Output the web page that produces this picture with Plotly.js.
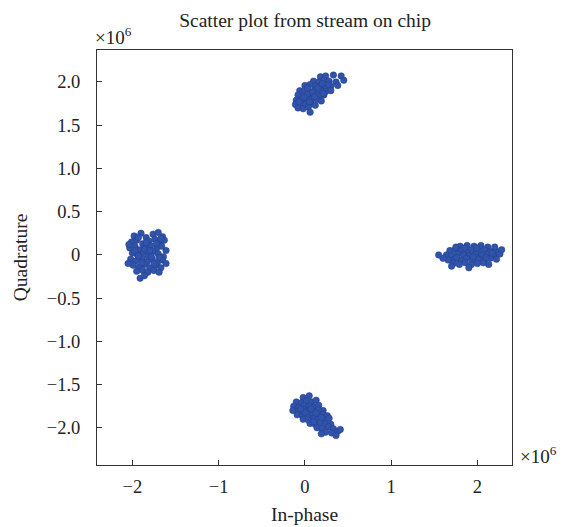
<!DOCTYPE html>
<html>
<head>
<meta charset="utf-8">
<script src="https://cdn.plot.ly/plotly-3.0.1.min.js"></script>
<style>html,body{margin:0;padding:0;background:#fff;}#chart{width:565px;height:527px;}</style>
</head>
<body>
<div id="chart"></div>
<script>
// Values in units of 1e6
const leftX = [-1.98,-1.90,-1.84,-1.76,-1.70,-1.65,
 -2.01,-1.95,-1.88,-1.81,-1.74,-1.68,-1.63,
 -2.03,-1.97,-1.91,-1.85,-1.79,-1.72,-1.66,-1.61,
 -2.00,-1.94,-1.87,-1.82,-1.76,-1.70,-1.64,
 -2.02,-1.96,-1.89,-1.83,-1.77,-1.71,-1.65,-1.61,
 -1.99,-1.92,-1.86,-1.80,-1.73,-1.67,
 -1.95,-1.88,-1.82,-1.75,-1.69,
 -1.91,-1.86,
 -1.93,-1.86,-1.78,-1.72,-1.89,-1.80,-1.69,-1.97,-1.84,-1.75,-1.93,-1.67,-2.04,-2.05];
const leftY = [0.22,0.25,0.20,0.24,0.26,0.21,
 0.15,0.17,0.13,0.16,0.18,0.14,0.17,
 0.08,0.10,0.06,0.09,0.11,0.07,0.10,0.05,
 0.02,0.00,0.03,-0.01,0.04,0.01,-0.02,
 -0.05,-0.07,-0.04,-0.08,-0.05,-0.09,-0.06,-0.10,
 -0.12,-0.14,-0.11,-0.15,-0.12,-0.15,
 -0.19,-0.18,-0.20,-0.18,-0.20,
 -0.27,-0.24,
 0.20,0.07,-0.02,0.13,-0.09,0.05,-0.03,0.05,0.14,-0.10,-0.01,0.19,0.12,-0.10];

const topX = [0.18,0.24,0.33,0.42,
 0.10,0.16,0.22,0.28,0.36,0.45,
 0.00,0.06,0.12,0.18,0.24,0.30,0.38,
 -0.06,0.00,0.06,0.12,0.18,0.24,0.30,
 -0.08,-0.02,0.04,0.10,0.16,0.22,
 -0.10,-0.04,0.02,0.08,0.14,0.19,
 -0.11,-0.05,0.01,0.07,0.12,
 -0.08,-0.02,0.04,
 0.06,
 0.03,0.09,0.15,-0.01,0.05,0.11,0.20,0.27,0.21,-0.07];
const topY = [2.06,2.07,2.08,2.07,
 2.01,2.00,2.02,2.01,2.00,2.02,
 1.96,1.97,1.95,1.96,1.94,1.95,1.96,
 1.90,1.91,1.89,1.91,1.90,1.89,1.90,
 1.85,1.84,1.86,1.85,1.84,1.85,
 1.79,1.80,1.79,1.81,1.80,1.78,
 1.74,1.75,1.74,1.75,1.73,
 1.70,1.69,1.71,
 1.65,
 1.93,1.88,1.93,1.82,1.77,1.83,1.98,1.97,1.87,1.77];

const rightX = [1.80,1.88,1.96,2.04,2.12,
 1.68,1.74,1.81,1.88,1.94,2.01,2.08,2.15,2.21,
 1.64,1.70,1.77,1.84,1.91,1.98,2.05,2.12,2.19,2.26,
 1.66,1.73,1.80,1.87,1.94,2.01,2.08,2.15,2.22,
 1.72,1.79,1.86,1.93,2.00,2.07,2.13,
 1.55,1.60,1.70,1.90,2.28,2.20,1.75,
 1.85,1.99,2.10,1.95,1.76,2.17];
const rightY = [0.10,0.11,0.10,0.11,0.09,
 0.05,0.06,0.05,0.04,0.06,0.05,0.06,0.04,0.05,
 0.00,-0.01,0.01,0.00,-0.01,0.01,0.00,0.01,-0.01,0.01,
 -0.06,-0.05,-0.06,-0.04,-0.06,-0.05,-0.06,-0.04,-0.05,
 -0.10,-0.11,-0.09,-0.11,-0.10,-0.09,-0.11,
 0.00,-0.04,-0.13,-0.15,0.06,0.09,0.09,
 0.08,0.08,-0.03,-0.02,-0.03,0.02];

const bottomX = [-0.02,0.05,
 -0.10,-0.04,0.02,0.08,0.13,
 -0.13,-0.07,-0.01,0.05,0.11,0.16,
 -0.14,-0.08,-0.02,0.04,0.10,0.16,0.21,
 -0.09,-0.03,0.03,0.09,0.15,0.21,0.26,
 -0.02,0.04,0.10,0.16,0.22,0.28,
 0.06,0.12,0.18,0.24,0.30,
 0.14,0.20,0.27,0.33,
 0.24,0.31,0.38,
 0.36,0.41,0.19,
 0.00,0.07,0.13,0.19,-0.05,0.10];
const bottomY = [-1.65,-1.63,
 -1.70,-1.71,-1.69,-1.70,-1.68,
 -1.75,-1.76,-1.74,-1.75,-1.76,-1.74,
 -1.80,-1.81,-1.79,-1.80,-1.81,-1.79,-1.80,
 -1.85,-1.86,-1.84,-1.85,-1.86,-1.84,-1.86,
 -1.90,-1.91,-1.89,-1.90,-1.91,-1.89,
 -1.95,-1.96,-1.94,-1.95,-1.96,
 -2.00,-2.01,-1.99,-2.01,
 -2.05,-2.06,-2.04,
 -2.09,-2.02,-2.07,
 -1.82,-1.78,-1.83,-1.88,-1.78,-1.93];

const xTickVals = [-2,-1,0,1,2];
const xTickText = ['\u22122','\u22121','0','1','2'];
const yTickVals = [2,1.5,1,0.5,0,-0.5,-1,-1.5,-2];
const yTickText = ['2.0','1.5','1.0','0.5','0','\u22120.5','\u22121.0','\u22121.5','\u22122.0'];

const FONT = 'Liberation Serif, Times New Roman, serif';
const marker = {size: 6.5, color: 'rgb(48,84,172)', line: {width: 0.5, color: 'rgb(38,60,135)'}};
const clusters = [[leftX,leftY],[topX,topY],[rightX,rightY],[bottomX,bottomY]];
const traces = clusters.map(c => ({x: c[0], y: c[1], type: 'scatter', mode: 'markers', marker: marker, showlegend: false, hoverinfo: 'skip'}));

const layout = {
  width: 565, height: 527,
  margin: {l: 97, r: 53, t: 50, b: 62},
  paper_bgcolor: '#fff', plot_bgcolor: '#fff',
  font: {family: FONT, color: '#222', size: 18},
  title: {text: 'Scatter plot from stream on chip', font: {family: FONT, size: 19.5, color: '#222'}, x: 0.54, xanchor: 'center', y: 0.962, yanchor: 'middle'},
  xaxis: {range: [-2.41, 2.40], tickvals: xTickVals, ticktext: xTickText, ticks: 'inside', ticklen: 5, tickcolor: '#333',
    showline: true, mirror: true, linecolor: '#333', linewidth: 1, showgrid: false, zeroline: false,
    tickfont: {family: FONT, size: 18.5, color: '#222'}, ticklabelstandoff: 5,
    title: {text: 'In-phase', font: {family: FONT, size: 19.5, color: '#222'}, standoff: 11}},
  yaxis: {range: [-2.43, 2.37], tickvals: yTickVals, ticktext: yTickText, ticks: 'inside', ticklen: 5, tickcolor: '#333',
    showline: true, mirror: true, linecolor: '#333', linewidth: 1, showgrid: false, zeroline: false,
    tickfont: {family: FONT, size: 18.5, color: '#222'}, ticklabelstandoff: 12,
    title: {text: 'Quadrature', font: {family: FONT, size: 19.5, color: '#222'}, standoff: 13}},
  annotations: [
    {text: '\u00d710<sup>6</sup>', xref: 'paper', yref: 'paper', x: 0, y: 1, xanchor: 'left', yanchor: 'bottom', showarrow: false, font: {family: FONT, size: 19, color: '#222'}, xshift: -4, yshift: 0},
    {text: '\u00d710<sup>6</sup>', xref: 'paper', yref: 'paper', x: 1, y: 0, xanchor: 'left', yanchor: 'bottom', showarrow: false, font: {family: FONT, size: 19, color: '#222'}, xshift: 6, yshift: -4}
  ]
};
Plotly.newPlot('chart', traces, layout, {displayModeBar: false, staticPlot: true});
</script>
</body>
</html>
